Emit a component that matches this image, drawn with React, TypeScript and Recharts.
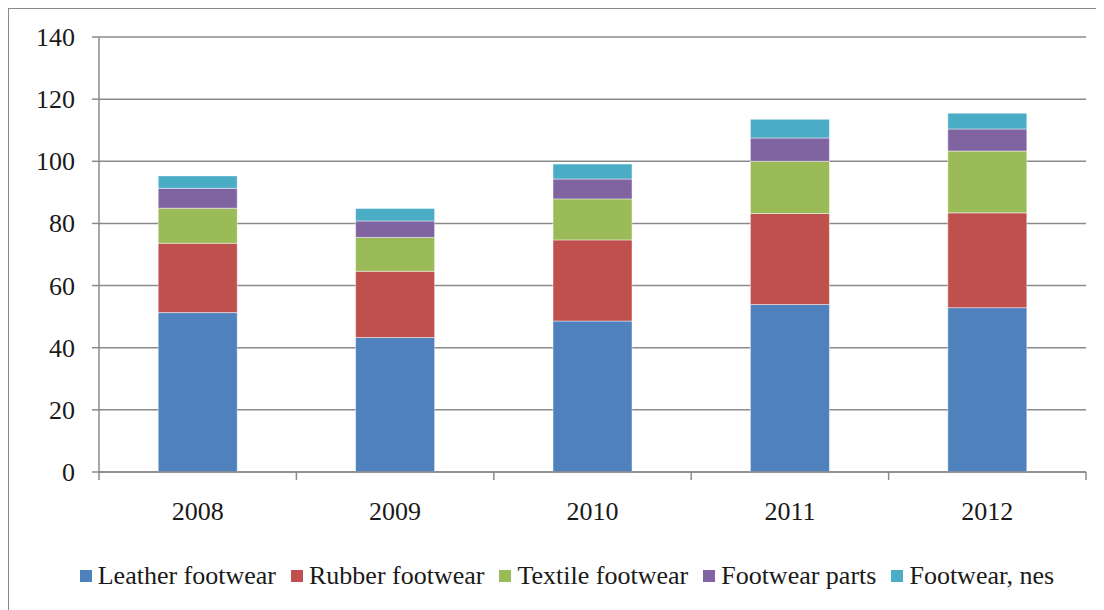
import { BarChart, Bar, XAxis, YAxis, CartesianGrid } from 'recharts'

const years = ['2008', '2009', '2010', '2011', '2012']
const leather = [51.3, 43.3, 48.6, 53.9, 52.9]
const rubber = [22.3, 21.3, 26.1, 29.3, 30.5]
const textile = [11.3, 10.9, 13.2, 16.8, 19.9]
const parts = [6.4, 5.3, 6.4, 7.5, 7.1]
const nes = [4.0, 4.0, 4.8, 6.0, 5.1]
const yTicks = [0, 20, 40, 60, 80, 100, 120, 140]

const SERIES = [
  { key: 'leather', label: 'Leather footwear', color: '#4F81BD' },
  { key: 'rubber', label: 'Rubber footwear', color: '#C0504D' },
  { key: 'textile', label: 'Textile footwear', color: '#9BBB59' },
  { key: 'parts', label: 'Footwear parts', color: '#8064A2' },
  { key: 'nes', label: 'Footwear, nes', color: '#4BACC6' },
]

const data = years.map((year, i) => ({
  year,
  leather: leather[i],
  rubber: rubber[i],
  textile: textile[i],
  parts: parts[i],
  nes: nes[i],
}))

const W = 1096
const H = 602
const MARGIN = { top: 29, right: 18, bottom: 98, left: 31 }
const Y_WIDTH = 60
const FONT = 'Liberation Serif, Times New Roman, serif'
const FONT_SIZE = 26
const AXIS_GREY = '#8a8a8a'
const TEXT = '#1a1a1a'

const plotWidth = W - MARGIN.left - MARGIN.right - Y_WIDTH
const band = plotWidth / years.length

// category label plus the boundary tick marks Excel draws between categories
function YearTick(props: any) {
  const { x, y, payload, index } = props
  const left = x - band / 2
  const top = y - 30
  return (
    <g>
      <line x1={left} x2={left} y1={top} y2={top + 8} stroke={AXIS_GREY} strokeWidth={1.5} />
      {index === years.length - 1 && (
        <line x1={left + band} x2={left + band} y1={top} y2={top + 8} stroke={AXIS_GREY} strokeWidth={1.5} />
      )}
      <text x={x} y={y} dy="0.7em" textAnchor="middle" fill={TEXT} fontSize={FONT_SIZE} style={{ fontFamily: FONT }}>
        {payload.value}
      </text>
    </g>
  )
}

function YTick(props: any) {
  const { x, y, payload } = props
  return (
    <text x={x} y={y} dy="0.345em" textAnchor="end" fill={TEXT} fontSize={FONT_SIZE} style={{ fontFamily: FONT }}>
      {payload.value}
    </text>
  )
}

function LegendBox() {
  return (
    <div style={{ position: 'absolute', left: 0, top: 553, width: W, display: 'flex', justifyContent: 'center', gap: 15, fontFamily: FONT, fontSize: FONT_SIZE, color: TEXT, paddingLeft: 20, boxSizing: 'border-box' }}>
      {SERIES.map(s => (
        <div key={s.key} style={{ display: 'flex', alignItems: 'center', gap: 6 }}>
          <div style={{ width: 12, height: 12, background: s.color }} />
          <span style={{ lineHeight: '27px' }}>{s.label}</span>
        </div>
      ))}
    </div>
  )
}

export default function App() {
  return (
    <div style={{ position: 'relative', width: W, height: H, borderTop: `1.5px solid ${AXIS_GREY}`, borderLeft: `1.5px solid ${AXIS_GREY}`, boxSizing: 'border-box', background: '#fff', fontFamily: FONT }}>
      <BarChart width={W} height={H} data={data} margin={MARGIN} barCategoryGap="30%" style={{ position: 'absolute', left: -1.5, top: -1.5 }}>
        <CartesianGrid vertical={false} stroke={AXIS_GREY} strokeWidth={1.5} />
        <XAxis
          dataKey="year"
          height={40}
          tickLine={false}
          tickSize={8}
          tickMargin={22}
          axisLine={{ stroke: AXIS_GREY, strokeWidth: 1.5 }}
          tick={<YearTick />}
          interval={0}
        />
        <YAxis
          width={Y_WIDTH}
          domain={[0, 140]}
          ticks={yTicks}
          interval={0}
          tickSize={7}
          tickMargin={17}
          tickLine={{ stroke: AXIS_GREY, strokeWidth: 1.5 }}
          axisLine={{ stroke: AXIS_GREY, strokeWidth: 1.5 }}
          tick={<YTick />}
        />
        {SERIES.map(s => (
          <Bar
            key={s.key}
            dataKey={s.key}
            stackId="a"
            fill={s.color}
            stroke="#ffffff"
            strokeOpacity={0.45}
            strokeWidth={1}
            isAnimationActive={false}
          />
        ))}
      </BarChart>
      <LegendBox />
    </div>
  )
}
